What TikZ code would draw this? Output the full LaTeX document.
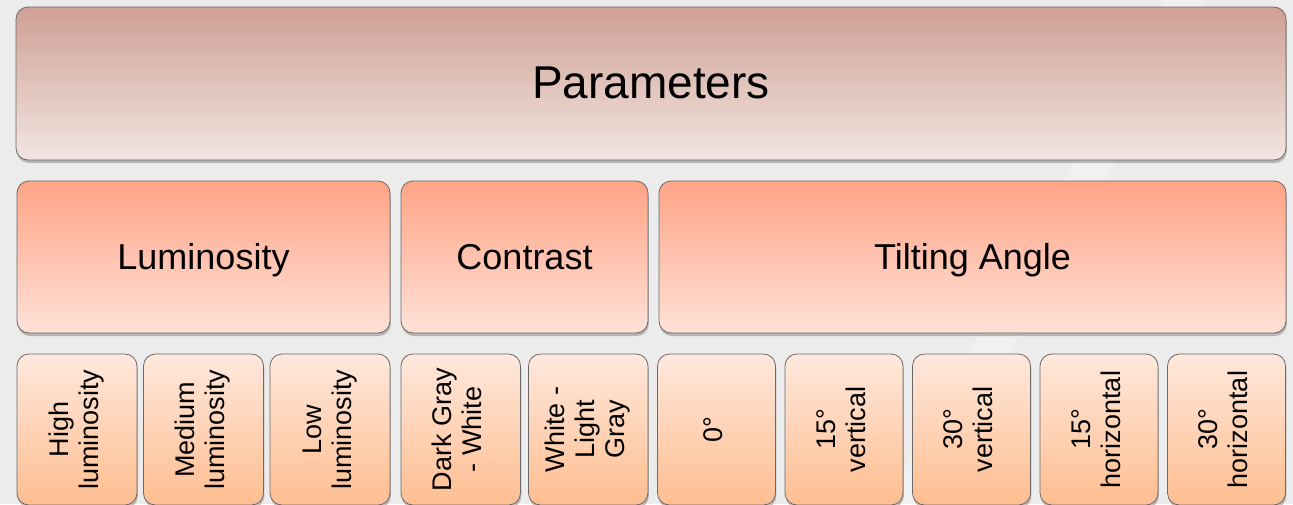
\documentclass[tikz,border=0pt]{standalone}
\usepackage{fontspec}
\setmainfont{Liberation Sans}
\usetikzlibrary{positioning,shadows}

\definecolor{bgcol}{RGB}{236,236,236}
\definecolor{edgecol}{RGB}{108,104,104}
\definecolor{paramtop}{RGB}{207,160,148}
\definecolor{parambot}{RGB}{242,230,226}
\definecolor{grouptop}{RGB}{255,164,134}
\definecolor{groupbot}{RGB}{255,225,215}
\definecolor{leaftop}{RGB}{255,232,220}
\definecolor{leafbot}{RGB}{255,190,144}

% vertical two/three line label
\newcommand{\uprot}[1]{\rotatebox{90}{\begin{tabular}{@{}c@{}}#1\end{tabular}}}

\tikzset{
  box/.style={draw=edgecol, line width=0.8pt, rounded corners=12pt,
    inner sep=0pt, outer sep=0pt, anchor=north west, align=center,
    drop shadow={shadow xshift=0.8pt, shadow yshift=-3pt, opacity=0.35, fill=black!70}},
  parambox/.style={box, top color=paramtop, bottom color=parambot,
    minimum height=153pt, text height=33pt, text depth=3pt,
    font=\fontsize{46}{52}\selectfont},
  groupbox/.style={box, top color=grouptop, bottom color=groupbot,
    minimum height=152pt, text height=26pt, text depth=2pt,
    font=\fontsize{36}{42}\selectfont},
  leafbox/.style={box, top color=leaftop, bottom color=leafbot,
    minimum height=151pt, minimum width=120pt, font=\fontsize{27}{30}\selectfont}
}

\begin{document}
\begin{tikzpicture}[x=1pt, y=-1pt]
  \useasboundingbox (0,0) rectangle (1293,504);
  \clip (0,0) rectangle (1293,504);
  \fill[bgcol] (0,0) rectangle (1293,504);
  \fill[white, opacity=0.3] (1165,0) -- (1205,0) -- (925,504) -- (885,504) -- cycle;

  % top level
  \node (param) [parambox, minimum width=1270pt] at (16,7) {Parameters};

  % groups
  \node (lum) [groupbox, minimum width=373pt] at (17,181) {Luminosity};
  \node (con) [groupbox, minimum width=247pt, right=11pt of lum] {Contrast};
  \node (tilt) [groupbox, minimum width=627pt, right=11pt of con] {Tilting Angle};

  % luminosity values
  \node (high) [leafbox] at (17,354) {\uprot{High\\luminosity}};
  \node (medium) [leafbox, right=6.5pt of high] {\uprot{Medium\\luminosity}};
  \node (low) [leafbox, right=6.5pt of medium] {\uprot{Low\\luminosity}};

  % contrast values
  \node (darkwhite) [leafbox, minimum width=119.5pt, right=11pt of low] {\uprot{Dark Gray\\- White}};
  \node (whitelight) [leafbox, minimum width=119.5pt, right=8pt of darkwhite] {\uprot{White -\\Light\\Gray}};

  % angle values
  \node (zero) [leafbox, minimum width=118pt, right=9.5pt of whitelight] {\uprot{0°}};
  \node (vfifteen) [leafbox, minimum width=118pt, right=9.5pt of zero] {\uprot{15°\\vertical}};
  \node (vthirty) [leafbox, minimum width=118pt, right=9.5pt of vfifteen] {\uprot{30°\\vertical}};
  \node (hfifteen) [leafbox, minimum width=118pt, right=9.5pt of vthirty] {\uprot{15°\\horizontal}};
  \node (hthirty) [leafbox, minimum width=118pt, right=9.5pt of hfifteen] {\uprot{30°\\horizontal}};
\end{tikzpicture}
\end{document}
